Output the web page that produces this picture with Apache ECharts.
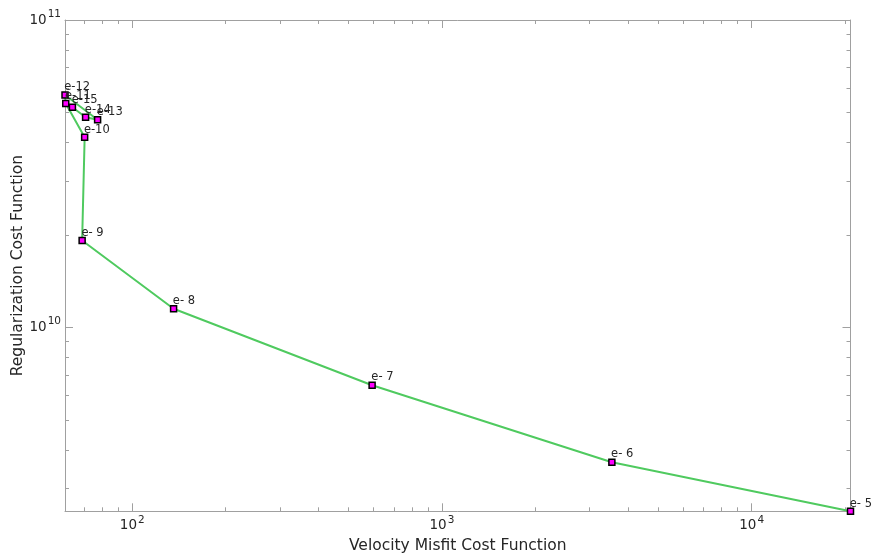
<!DOCTYPE html>
<html>
<head>
<meta charset="utf-8">
<script src="https://cdn.jsdelivr.net/npm/echarts@6/dist/echarts.min.js"></script>
<style>html,body{margin:0;padding:0;background:#fff}#c{width:874px;height:555px}</style>
</head>
<body>
<div id="c"></div>
<script>
// Data
const pointLabels = ['e- 5','e- 6','e- 7','e- 8','e- 9','e-10','e-11','e-12','e-13','e-14','e-15'];
const misfit = [20850, 3537, 595, 136, 68.9, 70.2, 61.0, 60.66, 77.3, 70.7, 64.1];
const regularization = [2.524e9, 3.645e9, 6.49e9, 1.15e10, 1.919e10, 4.153e10, 5.35e10, 5.70e10, 4.74e10, 4.825e10, 5.20e10];
const xTickLabels = [100, 1000, 10000];
const yTickLabels = [1e10, 1e11];
const yAxisMax = 1e11;

const xMin = Math.min(...misfit), xMax = Math.max(...misfit);
const yMin = Math.min(...regularization);

function minorTicks(lo, hi) {
  const out = [];
  for (let e = Math.floor(Math.log10(lo)); e <= Math.ceil(Math.log10(hi)); e++) {
    for (let m = 2; m <= 9; m++) {
      const v = m * Math.pow(10, e);
      if (v > lo && v < hi) out.push(v);
    }
  }
  return out;
}

const axisColor = '#a0a0a0';
const textColor = '#262626';
const FONT = 'DejaVu Sans';
const rich = {
  b: { fontSize: 13.5, fontFamily: FONT, color: textColor },
  s: { fontSize: 10.5, fontFamily: FONT, color: textColor, padding: [0, 0, 12, 1] }
};
const fmt = v => '{b|10}{s|' + Math.round(Math.log10(v)) + '}';

function makeX(pos, major, showLabel) {
  return {
    type: 'log', gridIndex: 0, position: pos, min: xMin, max: xMax,
    axisLine: { show: major, lineStyle: { color: axisColor, width: 1 } },
    axisTick: { show: true, inside: true, length: major ? 8 : 4,
      customValues: major ? xTickLabels : minorTicks(xMin, xMax),
      lineStyle: { color: axisColor } },
    axisLabel: { show: showLabel, customValues: xTickLabels, formatter: fmt, rich: rich, margin: 3 },
    splitLine: { show: false }, minorTick: { show: false },
    name: showLabel ? 'Velocity Misfit Cost Function' : '',
    nameLocation: 'middle', nameGap: 27, nameMoveOverlap: false,
    nameTextStyle: { fontSize: 15.5, fontFamily: FONT, color: textColor }
  };
}
function makeY(pos, major, showLabel) {
  return {
    type: 'log', gridIndex: 0, position: pos, min: yMin, max: yAxisMax,
    axisLine: { show: major, lineStyle: { color: axisColor, width: 1 } },
    axisTick: { show: true, inside: true, length: major ? 8 : 4,
      customValues: major ? yTickLabels : minorTicks(yMin, yAxisMax),
      lineStyle: { color: axisColor } },
    axisLabel: { show: showLabel, customValues: yTickLabels, formatter: fmt, rich: rich, margin: 4 },
    splitLine: { show: false }, minorTick: { show: false },
    name: showLabel ? 'Regularization Cost Function' : '',
    nameLocation: 'middle', nameGap: 39, nameMoveOverlap: false,
    nameTextStyle: { fontSize: 15.5, fontFamily: FONT, color: textColor }
  };
}

const chart = echarts.init(document.getElementById('c'));
chart.setOption({
  animation: false,
  backgroundColor: '#ffffff',
  grid: { left: 65, right: 23.5, top: 20, bottom: 43.7, containLabel: false, outerBoundsMode: 'none' },
  xAxis: [makeX('bottom', true, true), makeX('bottom', false, false), makeX('top', true, false), makeX('top', false, false)],
  yAxis: [makeY('left', true, true), makeY('left', false, false), makeY('right', true, false), makeY('right', false, false)],
  series: [{
    type: 'line',
    xAxisIndex: 0, yAxisIndex: 0,
    data: misfit.map((x, i) => [x, regularization[i]]),
    symbol: 'rect', symbolSize: 6,
    itemStyle: { color: '#ff00ff', borderColor: '#000000', borderWidth: 1.5 },
    lineStyle: { color: '#4fca5f', width: 2 },
    label: {
      show: true, position: [3, -4], align: 'left', verticalAlign: 'middle',
      fontSize: 11.5, fontFamily: FONT, color: textColor,
      formatter: p => pointLabels[p.dataIndex]
    },
    z: 3
  }]
});
</script>
</body>
</html>
